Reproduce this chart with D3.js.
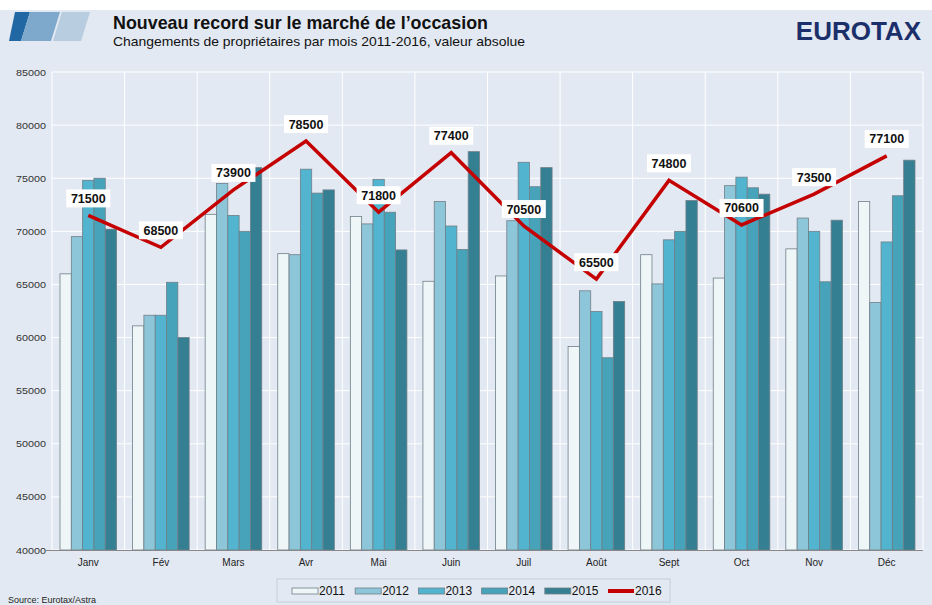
<!DOCTYPE html>
<html>
<head>
<meta charset="utf-8">
<script src="https://cdn.jsdelivr.net/npm/d3@7"></script>
<style>
  body { margin: 0; background: #fff; }
  svg { display: block; }
</style>
</head>
<body>
<svg id="chart" width="932" height="605"></svg>
<script>
const months = ["Janv", "Fév", "Mars", "Avr", "Mai", "Juin", "Juil", "Août", "Sept", "Oct", "Nov", "Déc"];
const years = ["2011", "2012", "2013", "2014", "2015"];
const v2011 = [66000, 61100, 71600, 67900, 71400, 65300, 65800, 59150, 67800, 65600, 68350, 72800];
const v2012 = [69500, 62100, 74500, 67800, 70700, 72800, 71000, 64400, 65050, 74300, 71250, 63300];
const v2013 = [74800, 62100, 71500, 75850, 74900, 70500, 76500, 62450, 69200, 75100, 70000, 69000];
const v2014 = [75000, 65200, 70000, 73600, 71800, 68300, 74200, 58100, 70000, 74100, 65250, 73350];
const v2015 = [70200, 60000, 76000, 73900, 68250, 77500, 76000, 63400, 72900, 73500, 71050, 76700];
const v2016 = [71500, 68500, 73900, 78500, 71800, 77400, 70500, 65500, 74800, 70600, 73500, 77100];
const yTicks = [40000, 45000, 50000, 55000, 60000, 65000, 70000, 75000, 80000, 85000];
const barColors = ["#eef6f8", "#8ec6d9", "#52b4cf", "#47a3b9", "#357f93"];
const lineColor = "#c40000";

const series = [v2011, v2012, v2013, v2014, v2015];
const svg = d3.select("#chart");
const W = 932, H = 605;
const bg = "#e3e9f2";
const sans = "'Liberation Sans', Arial, sans-serif";

// background
svg.append("rect").attr("width", W).attr("height", H).attr("fill", "#fff");
svg.append("rect").attr("y", 10).attr("width", W).attr("height", H - 10).attr("fill", bg);

// logo parallelograms
const logo = svg.append("g");
logo.append("path").attr("d", "M15,12 L30,12 L21,41 L9,41 Z").attr("fill", "#2067a3");
logo.append("path").attr("d", "M30,12 L60,12 L51,41 L21,41 Z").attr("fill", "#7fa9cc");
logo.append("path").attr("d", "M62,12 L90,12 L81,41 L53,41 Z").attr("fill", "#b8cde0");

svg.append("text").attr("x", 113).attr("y", 29)
  .attr("font-family", sans).attr("font-weight", "bold").attr("font-size", 19)
  .attr("textLength", 375).attr("lengthAdjust", "spacingAndGlyphs")
  .attr("fill", "#111").text("Nouveau record sur le marché de l’occasion");
svg.append("text").attr("x", 113).attr("y", 46)
  .attr("font-family", sans).attr("font-size", 13)
  .attr("textLength", 412).attr("lengthAdjust", "spacingAndGlyphs")
  .attr("fill", "#111").text("Changements  de  propriétaires  par mois 2011-2016,  valeur absolue");
svg.append("text").attr("x", 921).attr("y", 40).attr("text-anchor", "end")
  .attr("font-family", sans).attr("font-weight", "bold").attr("font-size", 26)
  .attr("fill", "#1b306b").text("EUROTAX");

// plot area
const pLeft = 52, pRight = 923, pTop = 72, pBottom = 550;
const x = d3.scaleBand().domain(months).range([pLeft, pRight]).paddingInner(0).paddingOuter(0);
const xs = d3.scaleBand().domain(years).range([8, x.bandwidth() - 8]).padding(0);
const y = d3.scaleLinear().domain([40000, 85000]).range([pBottom, pTop]);

const grid = svg.append("g");
grid.selectAll("line.h").data(yTicks).join("line")
  .attr("x1", pLeft).attr("x2", pRight)
  .attr("y1", d => y(d)).attr("y2", d => y(d))
  .attr("stroke", "#fff").attr("stroke-width", 1);
grid.selectAll("line.v").data(months.concat(["end"])).join("line")
  .attr("x1", (d, i) => pLeft + i * x.bandwidth()).attr("x2", (d, i) => pLeft + i * x.bandwidth())
  .attr("y1", pTop).attr("y2", pBottom)
  .attr("stroke", "#fff").attr("stroke-width", 1);

// y axis
const yAxis = svg.append("g").attr("transform", `translate(${pLeft},0)`)
  .call(d3.axisLeft(y).tickValues(yTicks).tickSize(0).tickPadding(6).tickFormat(d3.format("d")));
yAxis.select(".domain").remove();
yAxis.selectAll("text").attr("font-family", sans).attr("font-size", 9.5)
  .attr("textLength", 30).attr("lengthAdjust", "spacingAndGlyphs").attr("fill", "#333");

// bars
const groups = svg.append("g").selectAll("g").data(months).join("g")
  .attr("transform", d => `translate(${x(d)},0)`);
groups.selectAll("rect").data((m, i) => years.map((yr, k) => ({ yr, k, v: series[k][i] })))
  .join("rect")
  .attr("x", d => xs(d.yr))
  .attr("width", xs.bandwidth())
  .attr("y", d => y(d.v))
  .attr("height", d => y(40000) - y(d.v))
  .attr("fill", d => barColors[d.k])
  .attr("stroke", "#6f7f88").attr("stroke-width", 0.8);

// x axis
const xAxis = svg.append("g").attr("transform", `translate(0,${pBottom})`)
  .call(d3.axisBottom(x).tickSize(0).tickPadding(9));
xAxis.select(".domain").attr("stroke", "#888").attr("d", `M${pLeft - 6},0.5H${pRight}`);
xAxis.selectAll("text").attr("font-family", sans).attr("font-size", 10).attr("fill", "#222");

// 2016 line
const cx = m => x(m) + x.bandwidth() / 2;
const line = d3.line().x((d, i) => cx(months[i])).y(d => y(d));
svg.append("path").datum(v2016).attr("d", line)
  .attr("fill", "none").attr("stroke", lineColor).attr("stroke-width", 3.5)
  .attr("stroke-linejoin", "miter");

// labels
const lab = svg.append("g").selectAll("g").data(v2016).join("g")
  .attr("transform", (d, i) => `translate(${cx(months[i])},${y(d) - 17})`);
lab.append("rect").attr("x", -22).attr("y", -9).attr("width", 44).attr("height", 18)
  .attr("fill", "#fff");
lab.append("text").attr("text-anchor", "middle").attr("dy", "0.36em")
  .attr("font-family", sans).attr("font-weight", "bold").attr("font-size", 12.5)
  .attr("fill", "#111").text(d => d);

// legend
const legend = svg.append("g");
legend.append("rect").attr("x", 277).attr("y", 579).attr("width", 393).attr("height", 23)
  .attr("fill", "none").attr("stroke", "#c8ced8").attr("stroke-width", 1);
const items = years.concat(["2016"]);
const li = legend.selectAll("g").data(items).join("g")
  .attr("transform", (d, i) => `translate(${292 + i * 63.2},591)`);
li.filter(d => d !== "2016").append("rect").attr("x", 0).attr("y", -3).attr("width", 26).attr("height", 6)
  .attr("fill", (d, i) => barColors[i]).attr("stroke", "#6f7f88").attr("stroke-width", 0.8);
li.filter(d => d === "2016").append("rect").attr("x", 0).attr("y", -2).attr("width", 26).attr("height", 4)
  .attr("fill", lineColor);
li.append("text").attr("x", 27).attr("dy", "0.36em")
  .attr("font-family", sans).attr("font-size", 12).attr("fill", "#111").text(d => d);

svg.append("text").attr("x", 8).attr("y", 603)
  .attr("font-family", sans).attr("font-size", 9).attr("fill", "#222").text("Source: Eurotax/Astra");
</script>
</body>
</html>
